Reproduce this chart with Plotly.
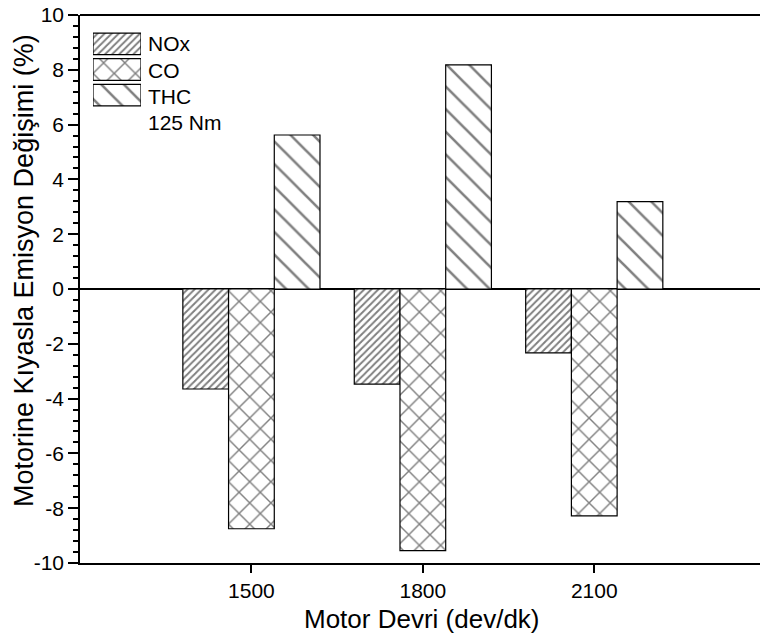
import plotly.graph_objects as go

speeds = [1500, 1800, 2100]
nox = [-3.65, -3.47, -2.33]
co = [-8.75, -9.55, -8.28]
thc = [5.62, 8.18, 3.19]
series_names = ["NOx", "CO", "THC"]
y_ticks = [-10, -8, -6, -4, -2, 0, 2, 4, 6, 8, 10]
x_ticks = [1500, 1800, 2100]
note = "125 Nm"
x_title = "Motor Devri (dev/dk)"
y_title = "Motorine Kıyasla Emisyon Değişimi (%)"

FONT = "Liberation Sans, Arial, sans-serif"
patterns = {"NOx": ("/", 5, 0.39), "CO": ("x", 15, 0.18), "THC": ("\\", 16, 0.16)}

fig = go.Figure()
for name, vals in zip(series_names, [nox, co, thc]):
    shp, size, sol = patterns[name]
    fig.add_trace(go.Bar(
        x=speeds, y=vals, name=name, showlegend=False,
        marker=dict(color="white", line=dict(color="black", width=1.2),
                    pattern=dict(shape=shp, size=size, solidity=sol,
                                 fgcolor="black", bgcolor="white", fillmode="overlay")),
    ))

# legend swatches on an overlay axis
fig.add_trace(go.Bar(
    x=[1, 1, 1], y=series_names, orientation="h", width=0.84,
    xaxis="x2", yaxis="y2", showlegend=False, hoverinfo="skip",
    marker=dict(color="white", line=dict(color="black", width=1.2),
                pattern=dict(shape=[patterns[n][0] for n in series_names],
                             size=[patterns[n][1] for n in series_names],
                             solidity=[patterns[n][2] for n in series_names],
                             fgcolor="black", bgcolor="white", fillmode="overlay")),
))

W, H = 760, 640
L, R, T, B = 80, 0, 15, 77
pw, ph = W - L - R, H - T - B
def px_x(p): return (p - L) / pw
def px_y(p): return (H - B - p) / ph

fig.update_layout(
    width=W, height=H,
    margin=dict(l=L, r=R, t=T, b=B, autoexpand=False),
    paper_bgcolor="white", plot_bgcolor="white",
    barmode="group", bargap=0.2, bargroupgap=0,
    font=dict(family=FONT, color="black", size=21),
    xaxis=dict(
        range=[1200, 1200 + pw / 0.5714], tickvals=x_ticks, ticktext=[str(v) for v in x_ticks],
        showgrid=False, zeroline=False, showline=True, linecolor="black", linewidth=1.5,
        mirror=False, ticks="outside", ticklen=8, tickwidth=1.5, tickcolor="black",
        tickfont=dict(size=21), automargin=False,
    ),
    yaxis=dict(
        range=[-10, 10], tickvals=y_ticks, ticktext=[str(v) for v in y_ticks], showgrid=False,
        zeroline=True, zerolinecolor="black", zerolinewidth=1.5,
        showline=True, linecolor="black", linewidth=1.5, mirror=False,
        ticks="outside", ticklen=10, tickwidth=1.5, tickcolor="black",
        tickfont=dict(size=21), automargin=False,
        minor=dict(dtick=0.4, tick0=0, ticks="outside", ticklen=5, tickwidth=1.5, tickcolor="black", showgrid=False),
    ),
    xaxis2=dict(domain=[px_x(93), px_x(141)], range=[0, 1], visible=False, anchor="y2", fixedrange=True),
    yaxis2=dict(domain=[px_y(108), px_y(31)], visible=False, anchor="x2",
                categoryorder="array", categoryarray=series_names[::-1], fixedrange=True),
    showlegend=False,
    shapes=[dict(type="line", xref="paper", yref="paper", x0=0, x1=1, y0=1, y1=1,
                 line=dict(color="black", width=2))],
)

label_y = [43, 70, 96, 123]
for txt, py in zip(series_names + [note], label_y):
    fig.add_annotation(x=px_x(146), y=px_y(py), xref="paper", yref="paper",
                       text=txt, showarrow=False, xanchor="left", yanchor="middle",
                       font=dict(size=21, family=FONT, color="black"))

# axis titles
fig.add_annotation(x=px_x(422), y=px_y(619), xref="paper", yref="paper", text=x_title,
                   showarrow=False, xanchor="center", yanchor="middle",
                   font=dict(size=26, family=FONT, color="black"))
fig.add_annotation(x=px_x(24), y=px_y(271), xref="paper", yref="paper", text=y_title,
                   showarrow=False, xanchor="center", yanchor="middle", textangle=-90,
                   font=dict(size=27, family=FONT, color="black"))

fig.write_html("out.html")
